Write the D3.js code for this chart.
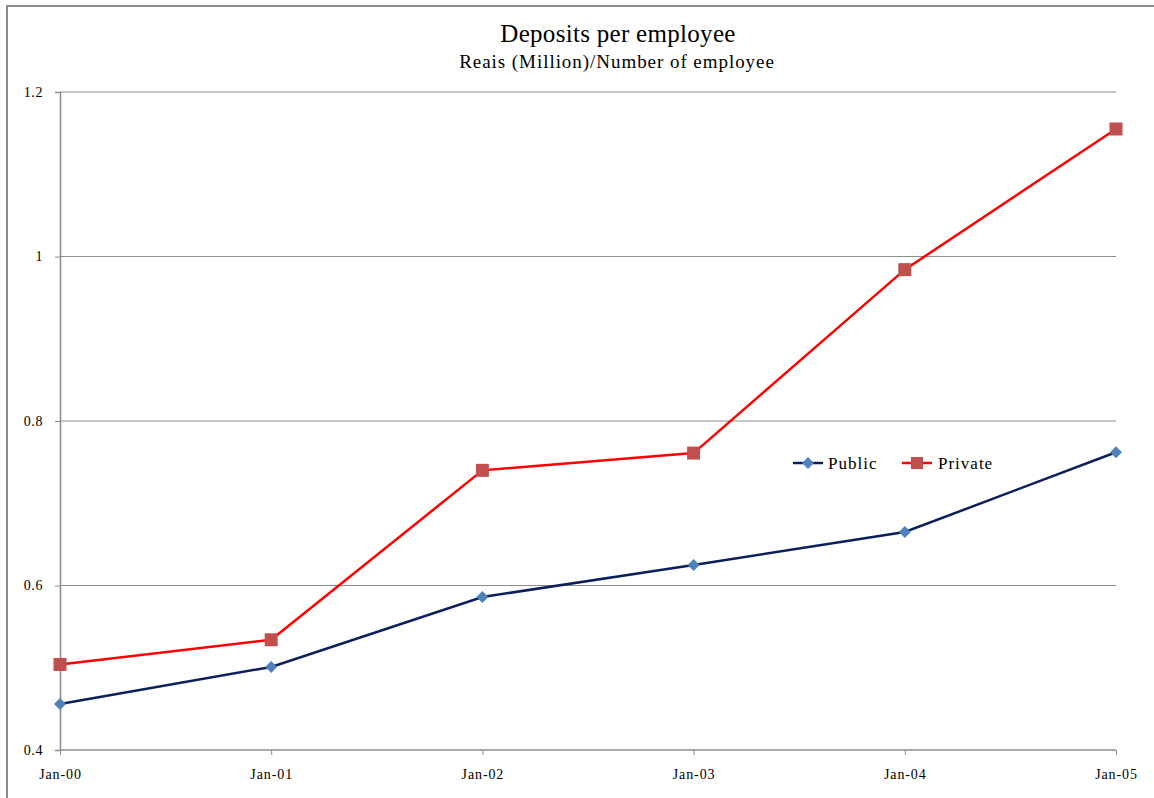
<!DOCTYPE html>
<html>
<head>
<meta charset="utf-8">
<script src="https://cdn.jsdelivr.net/npm/d3@7"></script>
<style>
  html, body { margin: 0; padding: 0; background: #fff; }
  svg { display: block; font-family: "Liberation Serif", "Times New Roman", serif; }
</style>
</head>
<body>
<svg id="chart" width="1154" height="798"></svg>
<script>
// Deposits per employee, Reais (Million) / number of employees
const categories = ["Jan-00", "Jan-01", "Jan-02", "Jan-03", "Jan-04", "Jan-05"];
const publicValues = [0.456, 0.501, 0.586, 0.625, 0.665, 0.762];
const privateValues = [0.504, 0.534, 0.740, 0.761, 0.984, 1.155];
const yTicks = [0.4, 0.6, 0.8, 1, 1.2];
const seriesNames = ["Public", "Private"];

const svg = d3.select("#chart");

// outer chart frame (top and left edges visible)
svg.append("rect")
  .attr("x", 7).attr("y", 6)
  .attr("width", 1200).attr("height", 900)
  .attr("fill", "none").attr("stroke", "#8c8c8c").attr("stroke-width", 2);

const plotLeft = 60, plotRight = 1116, plotTop = 92, plotBottom = 750;

const x = d3.scalePoint().domain(categories).range([plotLeft, plotRight]);
const y = d3.scaleLinear().domain([0.4, 1.2]).range([plotBottom, plotTop]);

// gridlines
svg.append("g")
  .selectAll("line")
  .data(yTicks.filter(d => d > 0.4))
  .join("line")
  .attr("x1", plotLeft).attr("x2", plotRight)
  .attr("y1", d => y(d)).attr("y2", d => y(d))
  .attr("stroke", "#8c8c8c").attr("stroke-width", 1);

// y axis
const yAxis = svg.append("g")
  .attr("transform", `translate(${plotLeft},0)`)
  .call(d3.axisLeft(y).tickValues(yTicks).tickSize(5).tickPadding(12)
    .tickFormat(d => String(d)));
yAxis.select(".domain").attr("stroke", "#8c8c8c").attr("stroke-width", 1.5);
yAxis.selectAll(".tick line").attr("stroke", "#8c8c8c");
yAxis.selectAll(".tick text")
  .attr("font-family", "Liberation Serif, serif")
  .attr("font-size", 14).attr("letter-spacing", 0.6).attr("fill", "#000");

// x axis
const xAxis = svg.append("g")
  .attr("transform", `translate(0,${plotBottom})`)
  .call(d3.axisBottom(x).tickSize(5).tickPadding(14));
xAxis.select(".domain").attr("stroke", "#8c8c8c").attr("stroke-width", 1.5)
  .attr("d", `M${plotLeft},0H${plotRight}`);
xAxis.selectAll(".tick line").attr("stroke", "#8c8c8c");
xAxis.selectAll(".tick text")
  .attr("font-family", "Liberation Serif, serif")
  .attr("font-size", 14).attr("letter-spacing", 0.9).attr("fill", "#000");

// titles
svg.append("text")
  .attr("x", 618).attr("y", 42)
  .attr("text-anchor", "middle")
  .attr("font-size", 25).attr("letter-spacing", 0.3).attr("fill", "#000")
  .text("Deposits per employee");
svg.append("text")
  .attr("x", 617).attr("y", 68)
  .attr("text-anchor", "middle")
  .attr("font-size", 19).attr("letter-spacing", 0.95).attr("fill", "#000")
  .text("Reais (Million)/Number of employee");

const line = d3.line().x((d, i) => x(categories[i])).y(d => y(d));

// Private series
svg.append("path")
  .datum(privateValues)
  .attr("d", line)
  .attr("fill", "none").attr("stroke", "#ff0000").attr("stroke-width", 2.5);
svg.append("g")
  .selectAll("rect")
  .data(privateValues)
  .join("rect")
  .attr("x", (d, i) => x(categories[i]) - 6.5)
  .attr("y", d => y(d) - 6.5)
  .attr("width", 13).attr("height", 13)
  .attr("fill", "#c0504d");

// Public series
svg.append("path")
  .datum(publicValues)
  .attr("d", line)
  .attr("fill", "none").attr("stroke", "#0c1f5c").attr("stroke-width", 2.5);
const diamond = "M0,-6L6,0L0,6L-6,0Z";
svg.append("g")
  .selectAll("path")
  .data(publicValues)
  .join("path")
  .attr("d", diamond)
  .attr("transform", (d, i) => `translate(${x(categories[i])},${y(d)})`)
  .attr("fill", "#4f81bd");

// legend
const legend = svg.append("g").attr("transform", "translate(793,463)");
const pub = legend.append("g");
pub.append("line").attr("x1", 0).attr("x2", 30).attr("y1", 0).attr("y2", 0)
  .attr("stroke", "#0c1f5c").attr("stroke-width", 2.5);
pub.append("path").attr("d", diamond).attr("transform", "translate(15,0)").attr("fill", "#4f81bd");
pub.append("text").attr("x", 35).attr("y", 6).attr("font-size", 17).attr("letter-spacing", 1)
  .attr("fill", "#000").text(seriesNames[0]);

const pri = legend.append("g").attr("transform", "translate(109,0)");
pri.append("line").attr("x1", 0).attr("x2", 30).attr("y1", 0).attr("y2", 0)
  .attr("stroke", "#ff0000").attr("stroke-width", 2.5);
pri.append("rect").attr("x", 9).attr("y", -6).attr("width", 12).attr("height", 12).attr("fill", "#c0504d");
pri.append("text").attr("x", 36).attr("y", 6).attr("font-size", 17).attr("letter-spacing", 1)
  .attr("fill", "#000").text(seriesNames[1]);
</script>
</body>
</html>
